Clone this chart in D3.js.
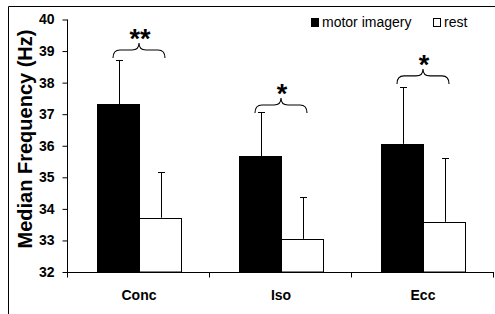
<!DOCTYPE html>
<html>
<head>
<meta charset="utf-8">
<script src="https://cdn.jsdelivr.net/npm/d3@7"></script>
<style>
    body { margin: 0; background: #fff; }
    text { font-family: Arial, "Liberation Sans", sans-serif; fill: #000; }
</style>
</head>
<body>
<div id="chart"></div>
<script>
(function(d3){

    // dados
    var categories = ["Conc", "Iso", "Ecc"];
    var series = ["motor imagery", "rest"];
    var motorValues = [37.32, 35.67, 36.06];
    var motorErrors = [1.41, 1.39, 1.81];
    var restValues = [33.72, 33.05, 33.59];
    var restErrors = [1.46, 1.32, 2.01];
    var yTicks = [32, 33, 34, 35, 36, 37, 38, 39, 40];
    var stars = ["**", "*", "*"];
    var braceLevels = [38.78, 37.04, 37.96];

    var width = 495, height = 314;

    var svg = d3.select("#chart")
            .append("svg")
            .attr("width", width)
            .attr("height", height);

    // moldura (so topo e lado esquerdo aparecem)
    svg.append("path")
            .attr("d", "M8.5," + height + "V6.5H" + width)
            .attr("fill", "none")
            .attr("stroke", "#000");

    var x0 = d3.scaleBand().domain(categories).range([67, 493]);
    var x1 = d3.scaleBand().domain(series).range([0, x0.bandwidth()])
            .paddingInner(0).paddingOuter(0.7);
    var y = d3.scaleLinear().domain([32, 40]).range([272, 19.5]);

    var rows = categories.map(function(c, i){
        return [
            {cat: c, s: series[0], v: motorValues[i], e: motorErrors[i]},
            {cat: c, s: series[1], v: restValues[i], e: restErrors[i]}
        ];
    });
    var flat = d3.merge(rows);

    function bx(d){ return Math.round(x0(d.cat) + x1(d.s) + 1) + 0.5; }
    var bw = Math.round(x1.bandwidth());

    // barras de erro (so para cima)
    var err = svg.append("g").attr("stroke", "#000").attr("stroke-width", 1);
    flat.forEach(function(d){
        var cx = Math.round(bx(d) + bw / 2) + 0.5;
        var top = Math.round(y(d.v + d.e)) + 0.5;
        err.append("line").attr("x1", cx).attr("x2", cx)
                .attr("y1", y(d.v)).attr("y2", top);
        err.append("line").attr("x1", cx - 3.5).attr("x2", cx + 3.5)
                .attr("y1", top).attr("y2", top);
    });

    svg.append("g").selectAll("rect")
            .data(flat)
            .enter()
            .append("rect")
            .attr("x", bx)
            .attr("y", function(d){ return Math.round(y(d.v)) + 0.5; })
            .attr("width", bw)
            .attr("height", function(d){ return 272 - Math.round(y(d.v)) - 0.5; })
            .attr("fill", function(d){ return d.s === series[0] ? "#000" : "#fff"; })
            .attr("stroke", "#000");

    // chaves e asteriscos
    categories.forEach(function(c, i){
        var xm = x0(c) + x1(series[1]) + 1;
        var xa = xm - 26, xb = xm + 26;
        var yb = y(braceLevels[i]);
        var yh = yb - 8, yt = yb - 15, r = 7;
        var p = "M" + xa + "," + yb +
                "Q" + xa + "," + yh + " " + (xa + r) + "," + yh +
                "L" + (xm - r) + "," + yh +
                "Q" + xm + "," + yh + " " + xm + "," + yt +
                "Q" + xm + "," + yh + " " + (xm + r) + "," + yh +
                "L" + (xb - r) + "," + yh +
                "Q" + xb + "," + yh + " " + xb + "," + yb;
        svg.append("path").attr("d", p)
                .attr("fill", "none").attr("stroke", "#000").attr("stroke-width", 1.1);
        svg.append("text")
                .attr("x", xm + 1)
                .attr("y", yt + 5)
                .attr("text-anchor", "middle")
                .style("font-size", "27px")
                .style("font-weight", "bold")
                .text(stars[i]);
    });

    // eixo y
    var yAxis = svg.append("g")
            .attr("transform", "translate(67.5,0)")
            .call(d3.axisLeft(y).tickValues(yTicks).tickSize(5).tickPadding(8));
    yAxis.select(".domain").attr("d", "M0," + y(40) + "V272");
    yAxis.selectAll("text")
            .style("font-size", "14px")
            .style("font-weight", "bold")
            .style("font-family", "Arial, 'Liberation Sans', sans-serif");

    // eixo x
    var xAxis = svg.append("g").attr("transform", "translate(0,272.5)");
    xAxis.append("line").attr("x1", 67).attr("x2", 494)
            .attr("stroke", "#000");
    xAxis.selectAll(".tk")
            .data(categories.concat(["end"]))
            .enter()
            .append("line")
            .attr("x1", function(d, i){ return (i < 3 ? x0(d) : 493) + 0.5; })
            .attr("x2", function(d, i){ return (i < 3 ? x0(d) : 493) + 0.5; })
            .attr("y1", 0).attr("y2", 5)
            .attr("stroke", "#000");
    xAxis.selectAll(".lbl")
            .data(categories)
            .enter()
            .append("text")
            .attr("x", function(d){ return x0(d) + x1(series[1]) + 1; })
            .attr("y", 27)
            .attr("text-anchor", "middle")
            .style("font-size", "14px")
            .style("font-weight", "bold")
            .text(function(d){ return d; });

    svg.append("text")
            .attr("transform", "translate(32,139) rotate(-90)")
            .attr("text-anchor", "middle")
            .style("font-size", "20px")
            .style("font-weight", "bold")
            .text("Median Frequency (Hz)");

    // legenda
    var leg = svg.append("g");
    leg.append("rect").attr("x", 311.5).attr("y", 18.5).attr("width", 7).attr("height", 8)
            .attr("fill", "#000").attr("stroke", "#000");
    leg.append("text").attr("x", 322).attr("y", 27).style("font-size", "14px").text(series[0]);
    leg.append("rect").attr("x", 433.5).attr("y", 18.5).attr("width", 7).attr("height", 8)
            .attr("fill", "#fff").attr("stroke", "#000");
    leg.append("text").attr("x", 444).attr("y", 27).style("font-size", "14px").text(series[1]);

})(d3);
</script>
</body>
</html>
